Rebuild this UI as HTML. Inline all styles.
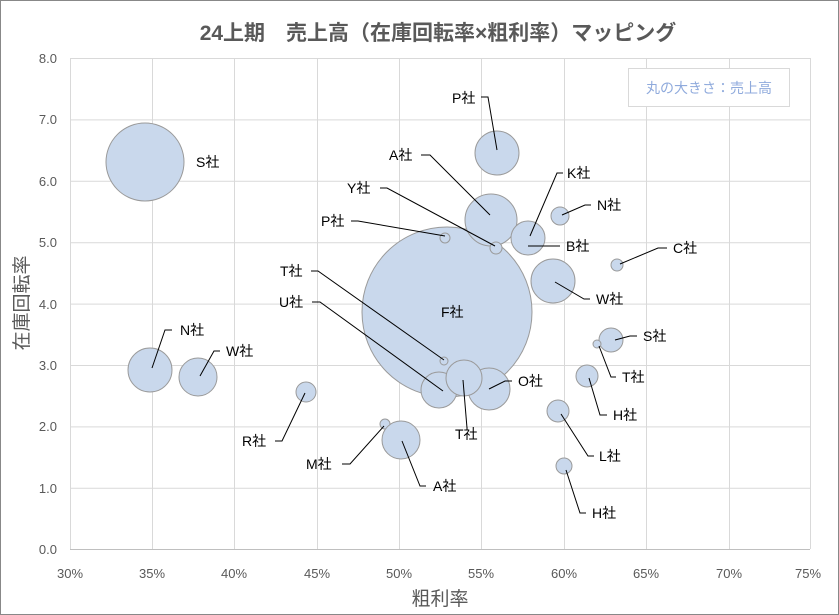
<!DOCTYPE html>
<html><head><meta charset="utf-8"><style>
body{margin:0;background:#fff}
svg{display:block}
text{font-family:"Liberation Sans","Noto Sans CJK JP",sans-serif}
</style></head><body>
<svg width="839" height="615" viewBox="0 0 839 615">
<rect x="0.5" y="0.5" width="838" height="614" fill="#fff" stroke="#888"/>
<text x="438" y="40" text-anchor="middle" font-size="21" font-weight="bold" fill="#595959">24上期　売上高（在庫回転率×粗利率）マッピング</text>
<g stroke="#d9d9d9" stroke-width="1">
<line x1="70" y1="58.5" x2="810" y2="58.5"/><line x1="70" y1="119.9" x2="810" y2="119.9"/>
<line x1="70" y1="181.3" x2="810" y2="181.3"/><line x1="70" y1="242.7" x2="810" y2="242.7"/>
<line x1="70" y1="304.1" x2="810" y2="304.1"/><line x1="70" y1="365.5" x2="810" y2="365.5"/>
<line x1="70" y1="426.9" x2="810" y2="426.9"/><line x1="70" y1="488.3" x2="810" y2="488.3"/>
<line x1="152.5" y1="58" x2="152.5" y2="549"/><line x1="234.5" y1="58" x2="234.5" y2="549"/>
<line x1="317.5" y1="58" x2="317.5" y2="549"/><line x1="399.5" y1="58" x2="399.5" y2="549"/>
<line x1="481.5" y1="58" x2="481.5" y2="549"/><line x1="564.5" y1="58" x2="564.5" y2="549"/>
<line x1="646.5" y1="58" x2="646.5" y2="549"/><line x1="729.5" y1="58" x2="729.5" y2="549"/>
<line x1="810.5" y1="58" x2="810.5" y2="549"/>
</g>
<line x1="70" y1="549.5" x2="810" y2="549.5" stroke="#bfbfbf"/>
<line x1="70.5" y1="58" x2="70.5" y2="549" stroke="#d9d9d9"/>
<g font-size="13" fill="#595959" text-anchor="end">
<text x="57" y="63">8.0</text><text x="57" y="124">7.0</text><text x="57" y="186">6.0</text><text x="57" y="247">5.0</text>
<text x="57" y="309">4.0</text><text x="57" y="370">3.0</text><text x="57" y="431">2.0</text><text x="57" y="493">1.0</text><text x="57" y="554">0.0</text>
</g>
<g font-size="13" fill="#595959" text-anchor="middle">
<text x="70" y="578">30%</text><text x="152" y="578">35%</text><text x="234" y="578">40%</text><text x="317" y="578">45%</text>
<text x="399" y="578">50%</text><text x="481" y="578">55%</text><text x="564" y="578">60%</text><text x="646" y="578">65%</text>
<text x="729" y="578">70%</text><text x="808" y="578">75%</text>
</g>
<text x="440" y="605" text-anchor="middle" font-size="19" fill="#595959">粗利率</text>
<text transform="translate(28,303) rotate(-90)" text-anchor="middle" font-size="19" fill="#595959">在庫回転率</text>
<rect x="628.5" y="68.5" width="161" height="38" fill="#fff" stroke="#d9d9d9"/>
<text x="709" y="93" text-anchor="middle" font-size="14" fill="#8faadc">丸の大きさ：売上高</text>
<g fill="#c9d8ec" stroke="#9a9a9a" stroke-width="1">
<circle cx="145" cy="162" r="39"/>
<circle cx="447" cy="312" r="85"/>
<circle cx="497" cy="153" r="22"/>
<circle cx="491" cy="220" r="26"/>
<circle cx="528" cy="238" r="17"/>
<circle cx="560" cy="216" r="9"/>
<circle cx="496" cy="248" r="6"/>
<circle cx="445" cy="238" r="5"/>
<circle cx="617" cy="265" r="6"/>
<circle cx="553" cy="281" r="22"/>
<circle cx="611" cy="340" r="12"/>
<circle cx="597" cy="344" r="4"/>
<circle cx="150" cy="370" r="22"/>
<circle cx="198" cy="377" r="19"/>
<circle cx="306" cy="392" r="10"/>
<circle cx="444" cy="361" r="4"/>
<circle cx="439" cy="390" r="18"/>
<circle cx="489" cy="389" r="21"/>
<circle cx="464" cy="378" r="18"/>
<circle cx="385" cy="424" r="5"/>
<circle cx="401" cy="440" r="19"/>
<circle cx="587" cy="376" r="11"/>
<circle cx="558" cy="411" r="11"/>
<circle cx="564" cy="466" r="8"/>
</g>
<g fill="none" stroke="#000" stroke-width="1">
<polyline points="481,97 488,97 497,150"/>
<polyline points="421,155 430,155 490,215"/>
<polyline points="380,188 387,188 495,246"/>
<polyline points="351,221 358,221 445,236"/>
<polyline points="563,173 557,173 530,236"/>
<polyline points="591,205 585,205 562,215"/>
<polyline points="560,246 528,246"/>
<polyline points="667,248 658,248 620,264"/>
<polyline points="590,299 584,299 555,282"/>
<polyline points="637,336 630,336 615,340"/>
<polyline points="616,377 611,377 599,346"/>
<polyline points="607,415 600,415 589,378"/>
<polyline points="594,456 588,456 561,414"/>
<polyline points="586,513 580,513 566,470"/>
<polyline points="311,271 318,271 444,360"/>
<polyline points="312,302 320,302 443,391"/>
<polyline points="172,330 165,330 152,368"/>
<polyline points="220,351 214,351 200,376"/>
<polyline points="275,441 282,441 305,393"/>
<polyline points="342,464 350,464 384,426"/>
<polyline points="426,486 420,486 402,441"/>
<polyline points="467,428 463,380"/>
<polyline points="512,381 505,381 489,389"/>
</g>
<g font-size="14" fill="#000">
<text x="452" y="103">P社</text>
<text x="389" y="160">A社</text>
<text x="347" y="193">Y社</text>
<text x="321" y="226">P社</text>
<text x="567" y="178">K社</text>
<text x="597" y="210">N社</text>
<text x="566" y="251">B社</text>
<text x="673" y="253">C社</text>
<text x="596" y="304">W社</text>
<text x="643" y="341">S社</text>
<text x="622" y="382">T社</text>
<text x="613" y="420">H社</text>
<text x="599" y="461">L社</text>
<text x="592" y="518">H社</text>
<text x="280" y="276">T社</text>
<text x="279" y="307">U社</text>
<text x="441" y="317">F社</text>
<text x="180" y="335">N社</text>
<text x="226" y="356">W社</text>
<text x="242" y="446">R社</text>
<text x="306" y="469">M社</text>
<text x="433" y="491">A社</text>
<text x="455" y="439">T社</text>
<text x="518" y="386">O社</text>
<text x="196" y="167">S社</text>
</g>
</svg>
</body></html>
